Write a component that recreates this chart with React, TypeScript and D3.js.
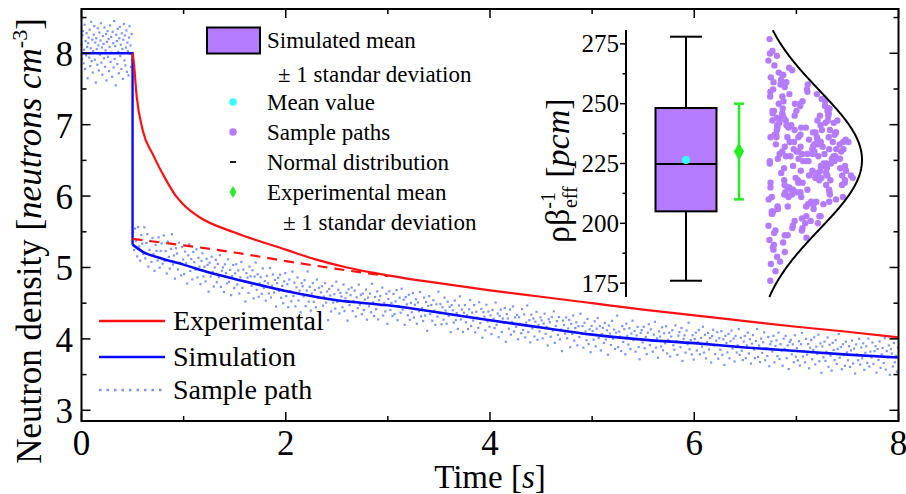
import React from 'react';
import * as d3 from 'd3';

// ---------------- main chart data ----------------
const xTicks = [0, 2, 4, 6, 8];
const xMinorTicks = [1, 3, 5, 7];
const yTicks = [3, 4, 5, 6, 7, 8];
const yMinorTicks = [3.5, 4.5, 5.5, 6.5, 7.5, 8.5];

const simPreTimes = [0, 0.5, 0.5];
const simPreValues = [8.0, 8.0, 5.32];
const simTimes = [0.5, 0.6, 0.8, 1.0, 1.25, 1.5, 2, 2.5, 3, 3.5, 4, 4.5, 5, 5.5, 6, 6.5, 7, 7.5, 8];
const simValues = [5.32, 5.22, 5.12, 5.04, 4.93, 4.84, 4.67, 4.54, 4.47, 4.37, 4.26, 4.16, 4.06, 3.99, 3.94, 3.88, 3.83, 3.78, 3.74];

const expTimes = [0.5, 0.51, 0.54, 0.6, 0.7, 0.83, 0.92, 1.0, 1.16, 1.5, 2.0, 2.3, 2.6, 3.0, 3.5, 4.0, 4.5, 5.0, 5.5, 6.0, 6.5, 7.0, 7.5, 8.0];
const expValues = [8.0, 7.9, 7.4, 6.92, 6.58, 6.22, 6.01, 5.88, 5.7, 5.49, 5.25, 5.11, 5.0, 4.89, 4.78, 4.68, 4.59, 4.5, 4.41, 4.33, 4.25, 4.17, 4.1, 4.02];

const expDashTimes = [0.5, 1.0, 1.5, 2.0, 2.5, 3.0];
const expDashValues = [5.4, 5.31, 5.21, 5.09, 4.98, 4.88];

// sample path: deviations from the simulated mean, in 0.01 neutrons cm^-3
const samplePreStep = 0.005;
const samplePreDev = [12,-8,25,31,-14,5,40,-22,17,-3,28,9,-35,14,22,-6,33,-18,7,44,-11,19,-27,3,26,38,-9,15,-41,21,6,-16,35,11,-24,29,-2,18,42,-13,8,-30,24,13,-7,36,-19,4,27,-38,16,31,-5,20,-25,9,39,-12,23,1,-33,30,14,-20,45,-8,10,-45,26,17,-15,34,2,-28,21,37,-4,12,-22,28,6,-36,19,41,-10,25,-17,8,32,-26,15,3,-31,22,38,-1,11,-19,27,-9];
const samplePostStart = 0.505;
const samplePostStep = 0.01;
const samplePostDev = [
18,-6,25,9,-12,30,4,-15,22,11,-3,35,-8,14,27,-18,6,19,-10,24,2,-21,16,8,-5,
28,-14,10,21,-7,33,-2,12,-19,26,5,-11,17,38,-4,9,-23,20,13,-9,29,1,-16,24,7,
-13,19,3,-25,15,31,-6,11,-17,22,8,-2,27,-12,16,4,-20,13,24,-8,6,-14,18,10,-27,
14,-5,23,2,-18,9,20,-11,15,-3,28,-16,7,12,-22,17,5,-9,25,-6,11,-24,3,19,-13,
8,21,-7,13,-19,4,26,-10,16,-1,-28,12,6,-15,22,9,-4,18,-21,10,30,-8,14,-17,2,
11,-12,24,-3,7,-20,15,5,-9,27,-14,3,19,-6,12,-25,8,16,-2,21,-11,6,-18,13,25,
-7,10,-22,17,1,-13,29,-5,14,-19,8,22,-10,4,-26,15,11,-3,20,-16,6,33,-9,12,-21,
3,18,-8,9,-15,24,-1,13,-24,7,16,-11,2,21,-6,10,-30,14,5,-17,19,-4,8,-12,26,
-2,15,-18,11,6,-9,23,-14,4,12,-27,17,-5,9,20,-13,1,16,-20,7,-8,25,-3,11,-16,
13,-10,5,19,-23,8,-4,14,-12,28,2,-17,10,-7,18,-21,6,12,-1,24,-15,3,-9,16,-26,
9,20,-6,4,-14,17,-11,7,23,-19,1,13,-8,26,-3,11,-24,15,5,-10,19,-16,8,-5,22,
-12,6,14,-20,10,-2,25,-9,3,-15,18,-7,12,-28,7,21,-4,9,-13,16,2,-18,11,-6,29,
-1,12,-16,8,-9,22,4,-14,17,-3,10,-25,13,6,-11,20,-7,3,-19,14,27,-5,9,-22,5,
16,-8,2,-17,11,24,-12,7,-4,18,-20,9,1,-13,23,-6,14,-26,10,4,-15,21,-2,12,-9,
7,-19,15,3,-10,26,-5,11,-22,8,17,-14,5,-1,20,-27,12,6,-8,19,-16,2,24,-11,9,
-4,13,-21,10,1,-12,22,-7,15,-17,4,28,-9,8,-23,16,-3,11,-14,7,21,-18,3,-6,14,
10,-15,6,20,-8,2,-24,13,9,-11,17,-2,25,-19,5,12,-7,18,-13,1,-29,14,8,-4,19,
-10,4,16,-22,11,-3,23,-12,6,14,-18,9,-6,27,-1,10,-20,15,3,-9,21,-14,7,-25,12,
5,-7,19,-16,9,24,-4,13,-21,2,11,-10,18,-5,8,-26,15,4,-12,22,-3,10,-17,6,30,
-14,8,1,-19,16,-6,12,-23,20,3,-9,14,-15,7,25,-2,11,-18,5,17,-11,-28,9,13,-4,
18,-12,4,-20,10,22,-7,15,-1,-16,8,26,-10,3,-24,13,6,-8,19,-13,11,-3,21,-17,2,
12,-21,7,16,-5,-11,23,1,-18,9,14,-7,20,-26,5,10,-14,17,-2,28,-9,4,-16,11,-23,
6,15,-10,2,19,-15,8,-4,24,-12,13,-20,3,16,-7,9,-25,12,21,-1,-13,6,18,-19,10,
-6,20,-13,9,-27,14,4,-9,17,-17,7,22,-3,11,-21,15,-8,2,25,-11,13,-5,-18,8,16,
-15,3,21,-8,12,-22,6,18,-2,-14,10,27,-12,4,-19,14,-6,9,23,-16,1,-10,17,-24,7,
11,-3,19,-18,5,13,-9,24,-13,8,-1,-22,16,2,20,-11,7,-26,12,15,-5,9,-16,22,-8,
4,-13,14,-20,10,26,-7,1,-15,18,-4,11,-23,6,17,-10,3,21,-17,8,-2,25,-12,13,-28,
9,-6,16,-11,2,22,-19,12,-3,-24,15,5,-9,19,-14,7,28,-5,10,-21,14,-1,-16,18,3,
-8,12,-17,6,20,-12,9,-26,15,1,-7,23,-13,11,-4,17,-20,4,13,-10,24,-15,6,-2,19,
-11,7,14,-23,10,-5,21,-16,3,12,-9,26,-18,8,-1,16,-25,11,5,-13,20,-7,2,-20,14
];

// ---------------- inset data ----------------
const insetTicks = [175, 200, 225, 250, 275];
const insetMinorTicks = [187.5, 212.5, 237.5, 262.5];
const boxValues = [176, 205, 224.8, 248.2, 278]; // min, q1, median, q3, max
const simMean = 226.5;
const expMean = 230;
const expSd = 20;
const normalMu = 226.5;
const normalSigma = 29;
const insetSamples = [
226,241,213,258,232,205,219,247,236,198,229,264,211,222,243,189,234,217,251,228,
207,238,224,272,215,231,195,245,220,256,209,236,227,183,249,218,233,262,203,240,
225,212,246,230,199,221,254,237,208,243,216,268,229,192,235,223,250,214,239,204,
231,260,218,244,226,201,234,211,253,221,186,242,228,207,237,265,219,248,232,197,
222,245,210,233,277,216,240,203,227,255,213,236,194,230,247,220,259,206,238,224,
215,249,229,191,242,217,234,263,209,226,244,200,231,252,219,237,176,223,246,212,
235,205,228,257,218,241,221,196,233,250,214,239,225,270,208,232,243,217,188,236,
227,253,211,245,230,202,239,219,261,225,213,234,248,198,229,222,241,206,255,233,
216,238,226,184,247,220,231,266,210,244,228,193,236,218,251,224,203,240,214,258,
230,209,242,221,237,199,254,226,215,248,232,180,239,223,262,212,235,204,246,227,
219,250,234,195,243,225,207,238,271,217,229,244,201,236,222,256,213,241,190,231,
237,214,247,228,200,233,259,220,245,208,226,240,197,234,251,218,230,211,243,224
];
const insetJitter = [
45,12,78,30,62,8,55,90,23,71,38,84,5,50,67,19,93,41,27,75,
14,58,86,33,3,69,47,21,95,11,60,36,80,17,52,73,9,44,88,26,
65,31,7,82,49,15,96,39,57,24,70,2,63,43,91,18,54,29,77,6,
85,35,60,13,72,48,25,99,4,66,40,87,20,56,10,79,32,94,51,16,
37,74,1,53,28,89,42,64,11,81,22,58,97,34,7,68,46,15,83,59,
26,92,50,18,76,3,61,35,85,43,12,70,29,97,55,8,40,66,21,80,
48,6,73,38,90,24,57,14,82,45,31,67,2,52,79,19,94,36,63,10,
71,27,44,86,16,59,33,98,8,62,41,75,23,50,13,88,30,69,5,54,
20,83,39,64,9,47,77,26,92,17,56,4,72,35,60,28,86,12,49,95,
32,67,15,53,80,1,42,74,24,96,37,63,11,81,46,21,58,7,89,34,
62,18,87,40,6,70,29,55,13,91,44,22,77,3,59,84,36,68,16,50,
9,76,43,25,94,57,14,85,38,65,2,48,73,30,99,19,52,27,81,61
];

const legendTop = ['Simulated mean', '± 1 standar deviation', 'Mean value', 'Sample paths', 'Normal distribution', 'Experimental mean', '± 1 standar deviation'];
const legendBottom = ['Experimental', 'Simulation', 'Sample path'];

// ---------------- styles ----------------
const SERIF = '"Liberation Serif", "Times New Roman", Times, serif';
const RED = '#ff1010';
const BLUE = '#0a0aff';
const DOT = '#7a95ff';
const PURPLE = '#b57bff';
const CYAN = '#33ffff';
const GREEN = '#22ee22';

export default function App() {
  const x = d3.scaleLinear().domain([0, 8]).range([81.5, 898.5]);
  const y = d3.scaleLinear().domain([2.85, 8.62]).range([421, 9]);
  const left = 81.5, right = 898.5, top = 9, bottom = 421;

  const simInterp = d3.scaleLinear().domain(simTimes).range(simValues);

  const preDots = samplePreDev.map((d, i) => ({ t: i * samplePreStep, v: 8.0 + d / 100 }));
  const postDots = samplePostDev.map((d, i) => {
    const t = samplePostStart + i * samplePostStep;
    return { t, v: simInterp(t) + d / 100 };
  });
  const dots = preDots.concat(postDots);

  const linePre = d3.line<number>().x((_, i) => x(simPreTimes[i])).y((d) => y(d));
  const lineSim = d3.line<number>().x((_, i) => x(simTimes[i])).y((d) => y(d)).curve(d3.curveMonotoneX);
  const lineExp = d3.line<number>().x((_, i) => x(expTimes[i])).y((d) => y(d)).curve(d3.curveMonotoneX);
  const lineDash = d3.line<number>().x((_, i) => x(expDashTimes[i])).y((d) => y(d)).curve(d3.curveMonotoneX);

  // inset
  const yi = d3.scaleLinear().domain([169.2, 280.8]).range([297, 30]);
  const axX = 626;
  const boxCx = 686, boxHalf = 30.5, capHalf = 16;
  const errX = 739;
  const cloudBase = 754, cloudAmp = 108;
  const g = (v: number) => Math.exp(-((v - normalMu) ** 2) / (2 * normalSigma * normalSigma));
  const curveX = (v: number) => cloudBase + cloudAmp * g(v);
  const curvePts = d3.range(169.2, 280.81, 0.5).map((v) => [curveX(v), yi(v)] as [number, number]);
  const curvePath = d3.line()(curvePts) || '';
  const [bMin, bQ1, bMed, bQ3, bMax] = boxValues;

  const tickFont = 35;

  return (
    <svg width={906} height={494} viewBox="0 0 906 494" style={{ position: 'absolute', left: 0, top: 0, background: '#fff' }} fontFamily={SERIF}>
      <rect x={0} y={0} width={906} height={494} fill="#fff" />
      {/* sample path dots */}
      <g fill={DOT}>
        {dots.map((d, i) => (
          <rect key={i} x={x(d.t) - 1.1} y={y(d.v) - 1.1} width={2.2} height={2.2} />
        ))}
      </g>
      {/* simulation */}
      <path d={linePre(simPreValues) || ''} fill="none" stroke={BLUE} strokeWidth={2.4} />
      <path d={lineSim(simValues) || ''} fill="none" stroke={BLUE} strokeWidth={2.6} />
      {/* experimental */}
      <path d={lineExp(expValues) || ''} fill="none" stroke={RED} strokeWidth={2.2} />
      <path d={lineDash(expDashValues) || ''} fill="none" stroke={RED} strokeWidth={2.2} strokeDasharray="10,7" />

      {/* frame */}
      <rect x={left} y={top} width={right - left} height={bottom - top} fill="none" stroke="#000" strokeWidth={2} />
      {/* ticks */}
      <g stroke="#000" strokeWidth={1.5}>
        {xTicks.map((t) => (
          <g key={'xt' + t}>
            <line x1={x(t)} x2={x(t)} y1={bottom} y2={bottom - 9} />
            <line x1={x(t)} x2={x(t)} y1={top} y2={top + 9} />
          </g>
        ))}
        {xMinorTicks.map((t) => (
          <g key={'xm' + t}>
            <line x1={x(t)} x2={x(t)} y1={bottom} y2={bottom - 5} />
            <line x1={x(t)} x2={x(t)} y1={top} y2={top + 5} />
          </g>
        ))}
        {yTicks.map((t) => (
          <g key={'yt' + t}>
            <line x1={left} x2={left + 9} y1={y(t)} y2={y(t)} />
            <line x1={right} x2={right - 9} y1={y(t)} y2={y(t)} />
          </g>
        ))}
        {yMinorTicks.map((t) => (
          <g key={'ym' + t}>
            <line x1={left} x2={left + 5} y1={y(t)} y2={y(t)} />
            <line x1={right} x2={right - 5} y1={y(t)} y2={y(t)} />
          </g>
        ))}
      </g>
      {/* tick labels */}
      <g fontSize={tickFont} fill="#000">
        {xTicks.map((t) => (
          <text key={'xl' + t} x={x(t)} y={455} textAnchor="middle">{t}</text>
        ))}
        {yTicks.map((t) => (
          <text key={'yl' + t} x={73} y={y(t) + 13} textAnchor="end">{t}</text>
        ))}
      </g>
      {/* axis titles */}
      <text x={490} y={488} fontSize={33} textAnchor="middle">
        Time [<tspan fontStyle="italic">s</tspan>]
      </text>
      <text transform="translate(41,241) rotate(-90)" fontSize={35} textAnchor="middle">
        Neutron density [<tspan fontStyle="italic">neutrons cm</tspan>
        <tspan fontSize={22} dy={-14}>-3</tspan>
        <tspan dy={14}>]</tspan>
      </text>

      {/* bottom legend */}
      <g fontSize={28}>
        {legendBottom.map((lab, i) => {
          const ly = [321, 357, 390][i];
          const stroke = [RED, BLUE, DOT][i];
          return (
            <g key={lab}>
              <line x1={99} x2={165} y1={ly} y2={ly} stroke={stroke} strokeWidth={2.6} strokeDasharray={i === 2 ? '2.5,5' : undefined} />
              <text x={173} y={ly + 9}>{lab}</text>
            </g>
          );
        })}
      </g>

      {/* top legend */}
      <g fontSize={23}>
        <rect x={207} y={27.5} width={53} height={26} fill={PURPLE} stroke="#000" strokeWidth={2} />
        <text x={267} y={48}>{legendTop[0]}</text>
        <text x={278} y={82}>{legendTop[1]}</text>
        <circle cx={233} cy={102} r={3.8} fill={CYAN} />
        <text x={267} y={110}>{legendTop[2]}</text>
        <circle cx={233} cy={132} r={3.8} fill={PURPLE} />
        <text x={267} y={140}>{legendTop[3]}</text>
        <line x1={230} x2={236} y1={162} y2={162} stroke="#000" strokeWidth={1.8} />
        <text x={267} y={170}>{legendTop[4]}</text>
        <path d={d3.symbol(d3.symbolDiamond, 40)() || ''} transform="translate(233,192)" fill={GREEN} />
        <text x={267} y={200}>{legendTop[5]}</text>
        <text x={283} y={230}>{legendTop[6]}</text>
      </g>

      {/* inset axis */}
      <line x1={axX} x2={axX} y1={30} y2={297} stroke="#000" strokeWidth={2} />
      <g stroke="#000" strokeWidth={1.5}>
        {insetTicks.map((t) => (
          <line key={'it' + t} x1={axX} x2={axX - 6} y1={yi(t)} y2={yi(t)} />
        ))}
        {insetMinorTicks.map((t) => (
          <line key={'im' + t} x1={axX} x2={axX - 3.5} y1={yi(t)} y2={yi(t)} />
        ))}
      </g>
      <g fontSize={25}>
        {insetTicks.map((t) => (
          <text key={'il' + t} x={619} y={yi(t) + 8.5} textAnchor="end">{t}</text>
        ))}
      </g>
      <text transform="translate(569,165) rotate(-90)" fontSize={34} textAnchor="start" x={-78}>
        ρβ<tspan fontSize={20} dy={-14}>-1</tspan>
        <tspan fontSize={20} dx={-16} dy={22}>eff</tspan>
        <tspan dy={-8}> [</tspan>
        <tspan fontStyle="italic">pcm</tspan>]
      </text>

      {/* box plot */}
      <g stroke="#000" strokeWidth={2}>
        <line x1={boxCx} x2={boxCx} y1={yi(bMax)} y2={yi(bQ3)} />
        <line x1={boxCx} x2={boxCx} y1={yi(bQ1)} y2={yi(bMin)} />
        <line x1={boxCx - capHalf} x2={boxCx + capHalf} y1={yi(bMax)} y2={yi(bMax)} />
        <line x1={boxCx - capHalf} x2={boxCx + capHalf} y1={yi(bMin)} y2={yi(bMin)} />
        <rect x={boxCx - boxHalf} y={yi(bQ3)} width={boxHalf * 2} height={yi(bQ1) - yi(bQ3)} fill={PURPLE} />
        <line x1={boxCx - boxHalf} x2={boxCx + boxHalf} y1={yi(bMed)} y2={yi(bMed)} />
      </g>
      <circle cx={boxCx} cy={yi(simMean)} r={4} fill={CYAN} />

      {/* experimental error bar */}
      <g stroke={GREEN} strokeWidth={2.5}>
        <line x1={errX} x2={errX} y1={yi(expMean + expSd)} y2={yi(expMean - expSd)} />
        <line x1={errX - 5} x2={errX + 5} y1={yi(expMean + expSd)} y2={yi(expMean + expSd)} />
        <line x1={errX - 5} x2={errX + 5} y1={yi(expMean - expSd)} y2={yi(expMean - expSd)} />
      </g>
      <path d={d3.symbol(d3.symbolDiamond, 90)() || ''} transform={`translate(${errX},${yi(expMean)})`} fill={GREEN} />

      {/* cloud */}
      <g fill={PURPLE}>
        {insetSamples.map((v, i) => {
          const w = Math.max(0, curveX(v) - 772);
          return <circle key={i} cx={768 + (insetJitter[i] / 100) * w} cy={yi(v)} r={3.2} />;
        })}
      </g>
      <path d={curvePath} fill="none" stroke="#000" strokeWidth={2} />
    </svg>
  );
}
